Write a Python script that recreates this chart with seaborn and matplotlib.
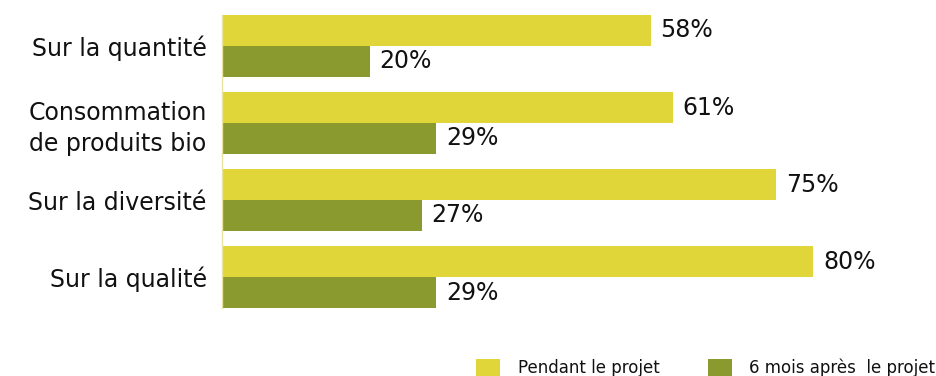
import matplotlib
matplotlib.use("Agg")
import matplotlib.pyplot as plt
import seaborn as sns
import pandas as pd
from matplotlib.patches import Patch

categories = ["Sur la quantité", "Consommation\nde produits bio", "Sur la diversité", "Sur la qualité"]
series_names = ["Pendant le projet", "6 mois après  le projet"]
pendant = [58, 61, 75, 80]
apres = [20, 29, 27, 29]
colors = ["#E0D63A", "#8B9A2E"]

df = pd.DataFrame({
    "cat": categories * 2,
    "serie": [series_names[0]] * 4 + [series_names[1]] * 4,
    "val": pendant + apres,
})

sns.set_theme(style="white")
plt.rcParams["font.family"] = ["DejaVu Sans"]

fig = plt.figure(figsize=(9.37, 3.76), dpi=100)
ax = fig.add_axes([222/937, 1-308/376, 702/937, 293/376])
sns.barplot(data=df, y="cat", x="val", hue="serie", order=categories,
            hue_order=series_names, palette=colors, orient="h",
            width=0.8, saturation=1, ax=ax, legend=False, errorbar=None,
            linewidth=0, edgecolor="none")

for cont in ax.containers:
    ax.bar_label(cont, labels=[f"{v:.0f}%" for v in cont.datavalues],
                 padding=7, fontsize=17, color="#111111")

ax.set_xlim(0, 95)
ax.set_ylim(3.4, -0.4)
ax.set_xlabel("")
ax.set_ylabel("")
ax.set_xticks([])
ax.tick_params(axis="y", length=0, pad=11, labelsize=17, labelcolor="#111111")
for lab in ax.get_yticklabels():
    lab.set_multialignment("center")
    lab.set_linespacing(1.35)
for s in ["top", "right", "bottom"]:
    ax.spines[s].set_visible(False)
ax.spines["left"].set_color("#E8E4A0")
ax.spines["left"].set_linewidth(1)

handles = [Patch(facecolor=c, edgecolor="none") for c in colors]
leg = fig.legend(handles, series_names, loc="center left",
                 bbox_to_anchor=(476/937, 1-368/376), ncol=2, frameon=False,
                 fontsize=12, handlelength=1.45, handleheight=1.35,
                 handletextpad=1.05, columnspacing=2.9, borderaxespad=0, borderpad=0)
for t in leg.get_texts():
    t.set_color("#111111")

fig.savefig("out.png", dpi=100)
